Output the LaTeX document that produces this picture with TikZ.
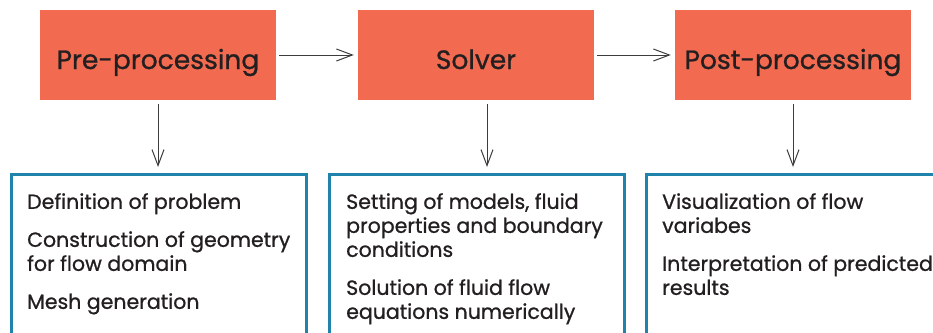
\documentclass[tikz,border=0pt]{standalone}
\usepackage{fontspec}
\setmainfont{Poppins}[FakeBold=0.9]
\usetikzlibrary{arrows.meta}
\definecolor{boxorange}{RGB}{242,107,80}
\definecolor{boxblue}{RGB}{32,131,172}
\definecolor{ink}{RGB}{35,31,32}
\definecolor{arrowgray}{RGB}{60,60,60}
\begin{document}
\begin{tikzpicture}[x=1pt,y=-1pt,
  stage/.style={fill=boxorange, draw=none, minimum width=236pt, minimum height=90pt, inner sep=0pt,
    text height=32pt, text depth=4pt,
    font=\fontsize{26.5}{30}\selectfont, text=ink},
  detail/.style={draw=boxblue, line width=2.6pt, fill=none, inner sep=0pt, anchor=north west},
  bodytext/.style={anchor=north west, inner sep=0pt, align=left, text=ink,
    font=\fontsize{20.5}{24}\selectfont},
  flow/.style={draw=arrowgray, line width=1pt, -{Straight Barb[length=16pt,width=12pt,line width=1pt]}}
]
\useasboundingbox (0,0) rectangle (933,332);
\clip (0,0) rectangle (933,332);
\node[stage] (pre) at (158,55) {Pre-processing};
\node[stage] (sol) at (476,55) {Solver};
\node[stage] (post) at (793,55) {Post-processing};

\node[detail, minimum width=295pt, minimum height=200pt] (d1) at (10,173) {};
\node[detail, minimum width=295pt, minimum height=200pt] (d2) at (328,173) {};
\node[detail, minimum width=320pt, minimum height=200pt] (d3) at (645,173) {};

\node[bodytext] (t1) at (27,193) {Definition of problem\\[14pt]Construction of geometry\\for flow domain\\[14pt]Mesh generation};
\node[bodytext] (t2) at (346,193) {Setting of models, fluid\\properties and boundary\\conditions\\[14pt]Solution of fluid flow\\equations numerically};
\node[bodytext] (t3) at (662,193) {Visualization of flow\\variabes\\[14pt]Interpretation of predicted\\results};

\draw[flow, shorten <=3pt, shorten >=4pt] (pre.east) -- (sol.west);
\draw[flow, shorten <=3pt, shorten >=4pt] (sol.east) -- (post.west);
\draw[flow, shorten <=4pt, shorten >=6pt] (pre.south) -- (pre.south |- d1.north);
\draw[flow, shorten <=4pt, shorten >=6pt] ([xshift=11pt]sol.south) -- ([xshift=11pt]sol.south |- d2.north);
\draw[flow, shorten <=4pt, shorten >=6pt] (post.south) -- (post.south |- d3.north);
\end{tikzpicture}
\end{document}
